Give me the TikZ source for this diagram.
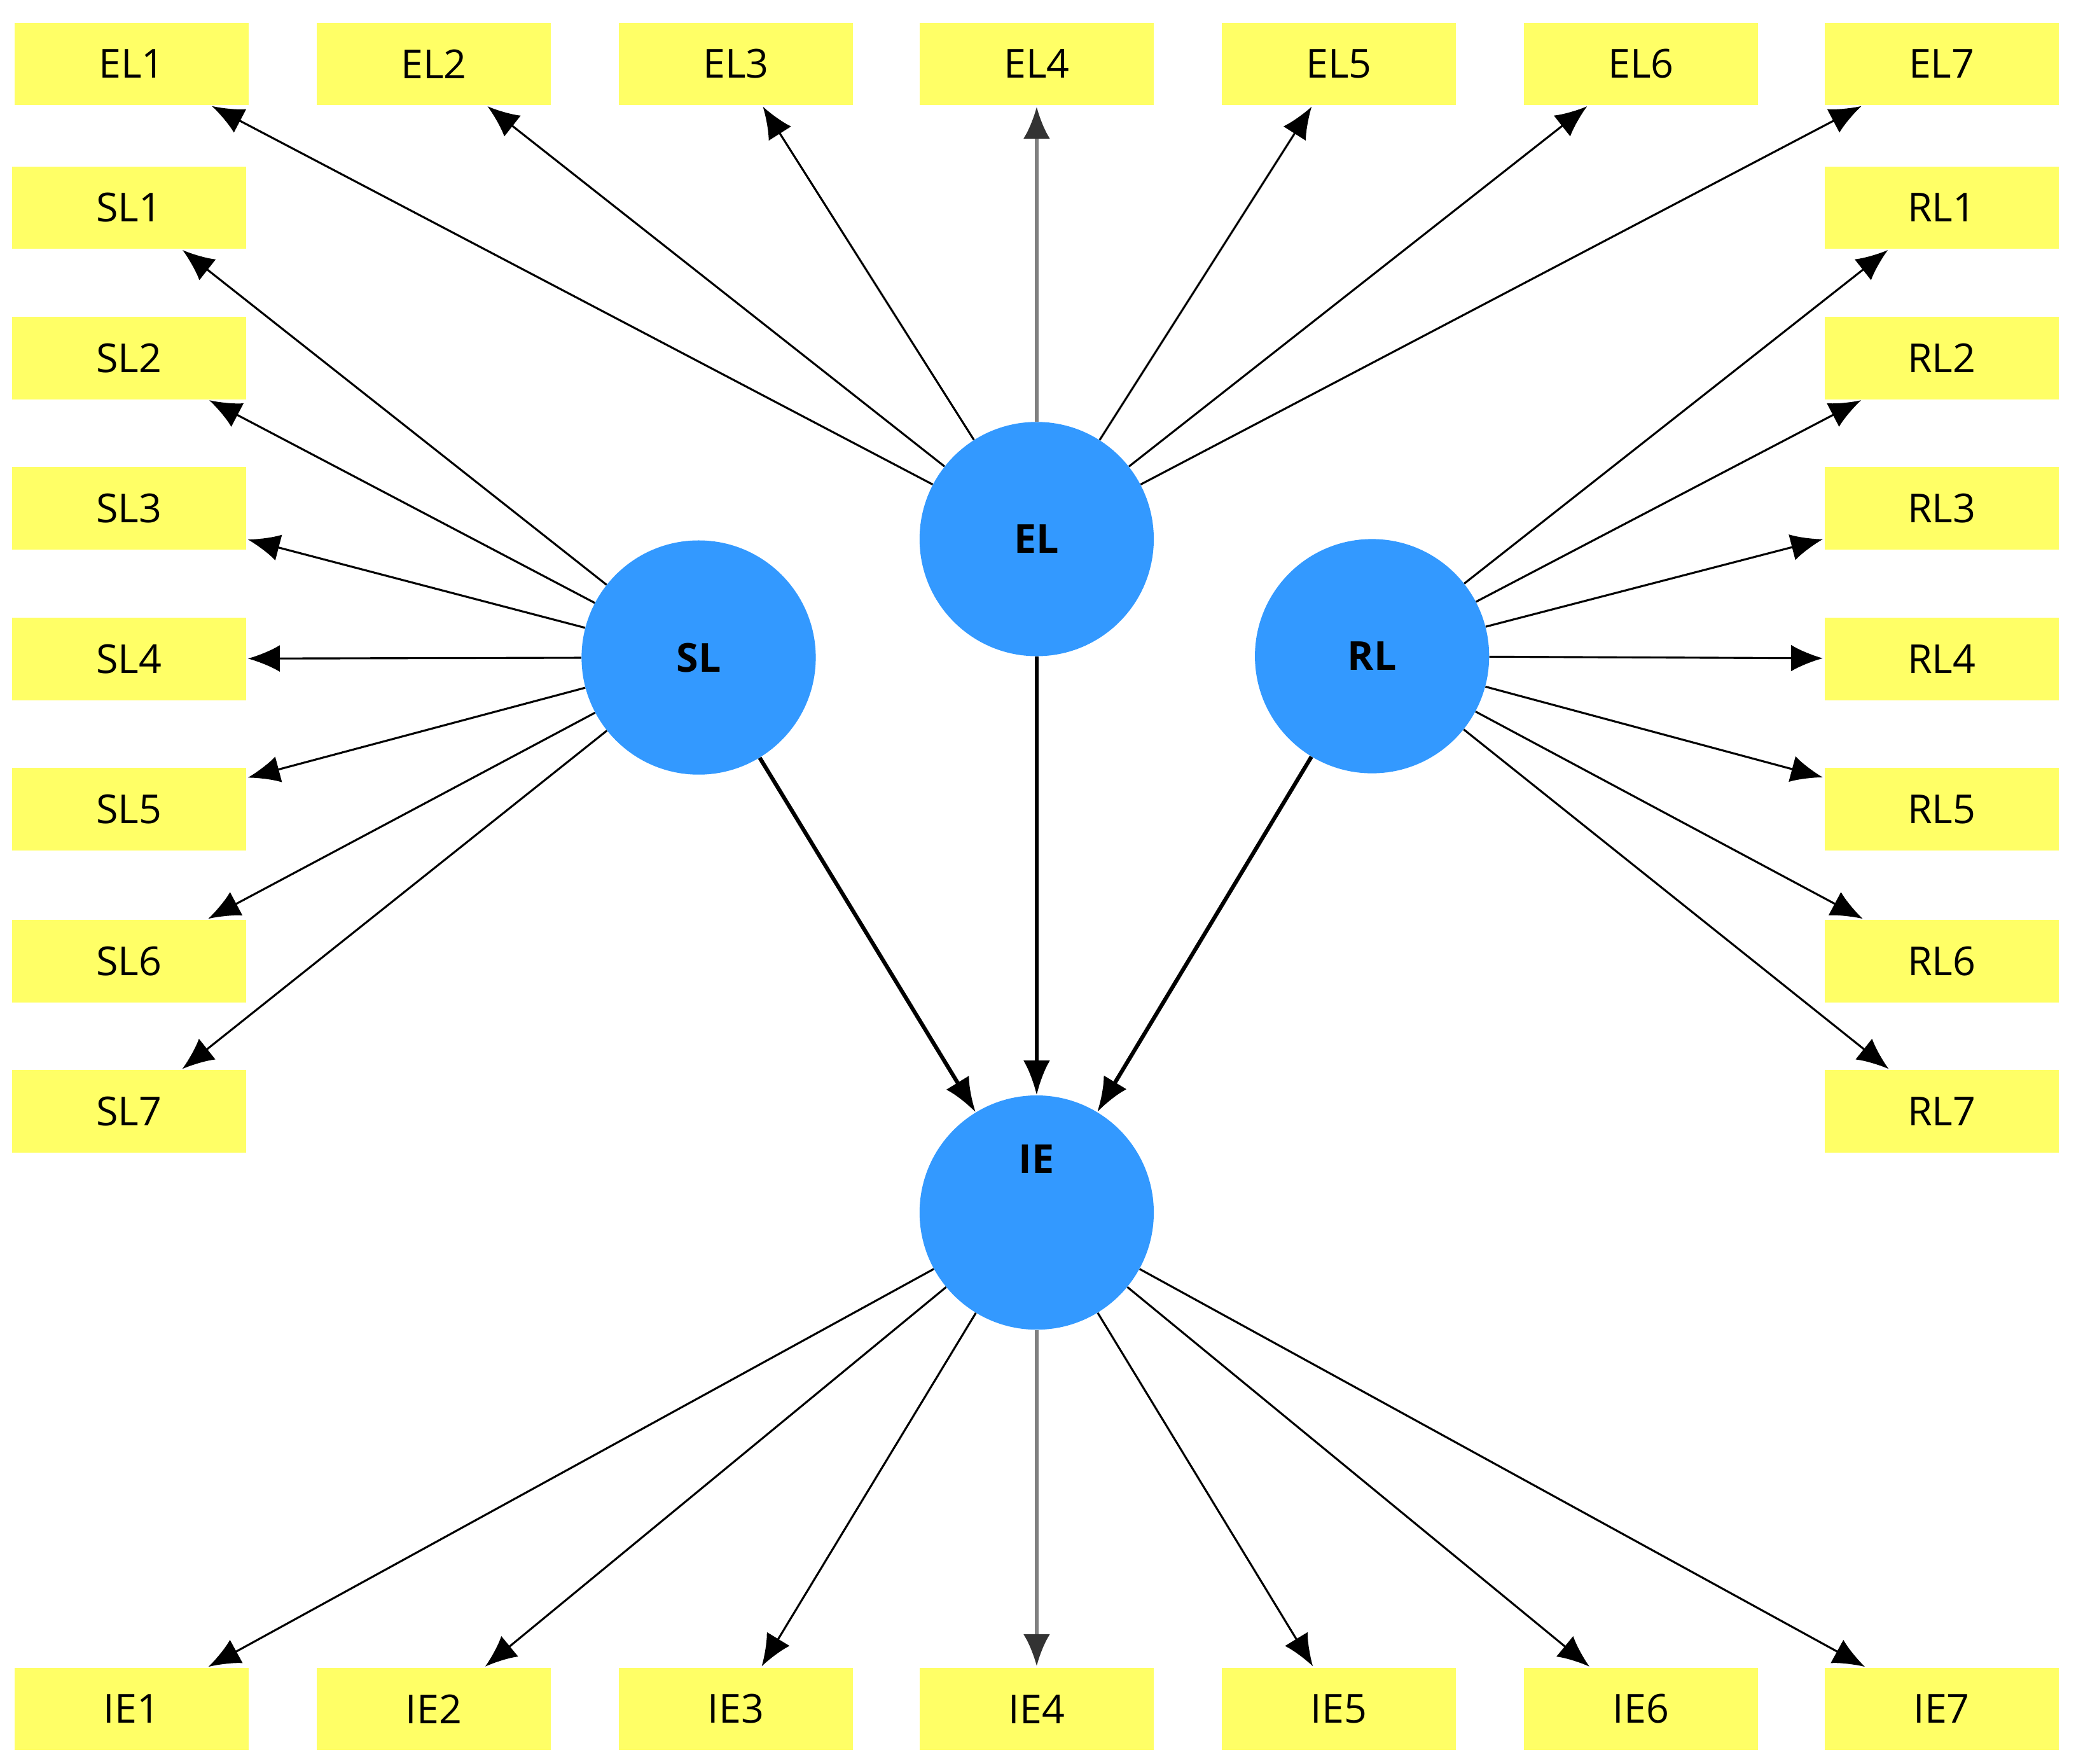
\documentclass[tikz,border=0pt]{standalone}
\usepackage{fontspec}
\setmainfont{Open Sans}
\usetikzlibrary{arrows.meta}
\definecolor{boxy}{HTML}{FFFF66}
\definecolor{circb}{HTML}{3399FF}
\tikzset{
 ind/.style={fill=boxy,minimum width=176pt,minimum height=62pt,inner sep=0pt,font=\fontsize{30}{36}\selectfont},
 lat/.style={circle,fill=circb,minimum size=176pt,inner sep=0pt,font=\fontsize{30}{36}\selectfont\bfseries},
 ld/.style={-{Latex[length=24pt,width=20pt]},line width=1.5pt,shorten >=1pt},
 ldg/.style={ld,draw=gray,line width=2.5pt,-{Latex[length=24pt,width=20pt,fill=black!80,color=black!80]}},
 st/.style={-{Latex[length=26pt,width=20pt]},line width=3pt}
}
\begin{document}
\begin{tikzpicture}[x=1pt,y=-1pt]
\useasboundingbox (0,0) rectangle (1560,1325);
\node[lat] (EL) at (779,405) {EL};
\node[lat] (SL) at (525,494) {SL};
\node[lat] (RL) at (1031,493) {RL};
\node[lat] (IE) at (779,911) {};
\node[font=\fontsize{30}{36}\selectfont\bfseries] (IEt) at (779,871) {IE};
\foreach \i/\x in {1/99,2/326,3/553,4/779,5/1006,6/1233,7/1459}{
 \node[ind] (EL\i) at (\x,48) {EL\i};
 \node[ind] (IE\i) at (\x,1284) {IE\i};
}
\foreach \i/\y in {1/156,2/269,3/382,4/495,5/608,6/722,7/835}{
 \node[ind] (SL\i) at (97,\y) {SL\i};
 \node[ind] (RL\i) at (1459,\y) {RL\i};
}
\foreach \i in {1,2,3,5,6,7}{
 \draw[ld] (EL) -- (EL\i);
 \draw[ld] (IE) -- (IE\i);
}
\draw[ldg] (EL) -- (EL4);
\draw[ldg] (IE) -- (IE4);
\foreach \i in {1,...,7}{
 \draw[ld] (SL) -- (SL\i);
 \draw[ld] (RL) -- (RL\i);
}
\draw[st] (SL) -- (IE);
\draw[st] (EL) -- (IE);
\draw[st] (RL) -- (IE);
\end{tikzpicture}
\end{document}
